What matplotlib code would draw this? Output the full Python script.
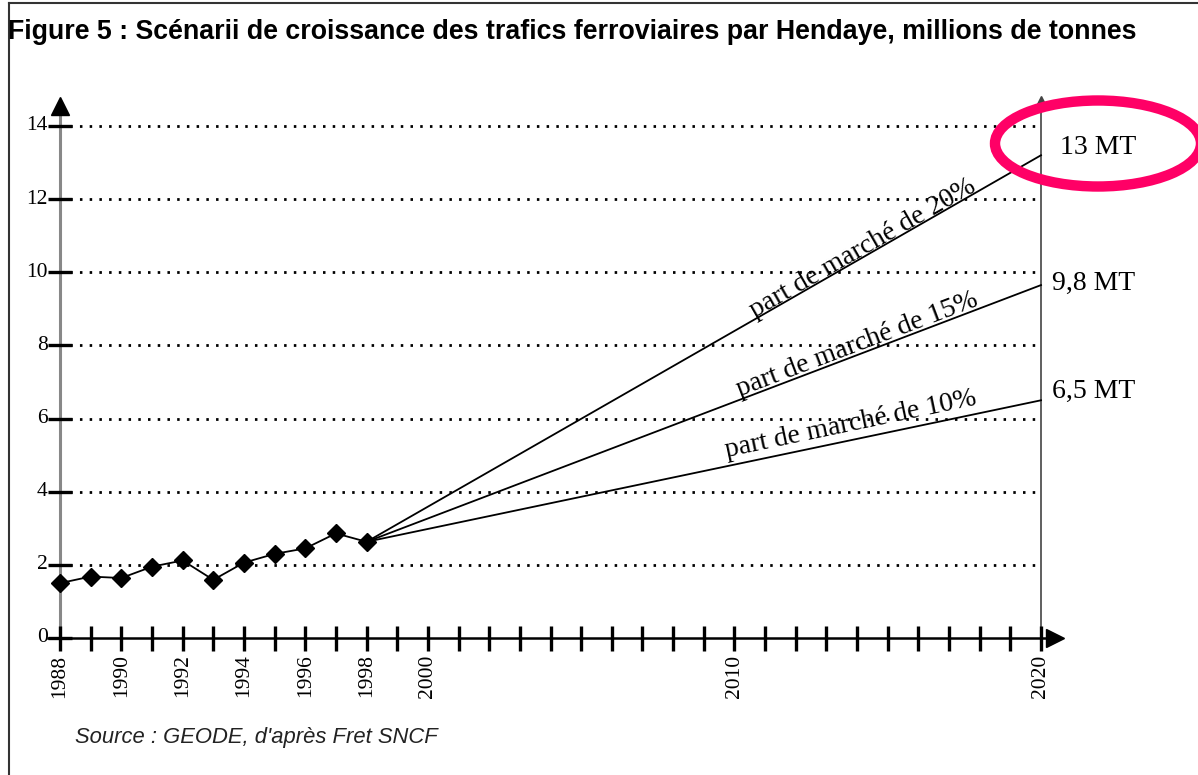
import numpy as np
import matplotlib.pyplot as plt
from matplotlib.patches import Ellipse
from matplotlib.lines import Line2D

# observed rail traffic through Hendaye (millions of tonnes)
years = [1988, 1989, 1990, 1991, 1992, 1993, 1994, 1995, 1996, 1997, 1998]
traffic = [1.50, 1.68, 1.64, 1.95, 2.12, 1.59, 2.06, 2.30, 2.45, 2.86, 2.63]

# growth scenarios up to 2020
scenario_labels = ['part de marché de 20%', 'part de marché de 15%', 'part de marché de 10%']
scenario_2020 = [13.2, 9.65, 6.5]
end_labels = ['13 MT', '9,8 MT', '6,5 MT']

y_ticks = [0, 2, 4, 6, 8, 10, 12, 14]
x_labels = [1988, 1990, 1992, 1994, 1996, 1998, 2000, 2010, 2020]

W, H = 1198, 775
fig = plt.figure(figsize=(W / 100, H / 100), dpi=100)
ax = fig.add_axes([0, 0, 1, 1])
ax.axis('off')

# pixel layout: 1988 -> x=60, 2020 -> x=1041 ; 0 -> y=638, 14 -> y=126
pxx = (1041 - 60) / 32
pxy = (638 - 126) / 14
ax.set_xlim(1988 - 60 / pxx, 1988 + (W - 60) / pxx)
ax.set_ylim(-(H - 638) / pxy, 638 / pxy)

serif = 'Liberation Serif'

# dotted grid
for v in y_ticks[1:]:
    ax.plot([1988, 2020], [v, v], color='black', lw=2.0, dashes=(0.9, 2.6))

# y axis
ax.plot([1988, 1988], [0, 14.45], color='#888888', lw=2.2, zorder=3)
ax.plot([1988], [14.55], marker='^', color='black', markersize=13, zorder=4)
ax.hlines(y_ticks, 1988 - 0.39, 1988 + 0.39, color='black', lw=2.4, zorder=4)
for v in y_ticks:
    ax.text(1987.6, v, str(v), family=serif, fontsize=15.5, ha='right', va='center')

# x axis
ax.plot([1987.6, 2020.4], [0, 0], color='black', lw=1.8, zorder=3)
ax.plot([2020.45], [0], marker='>', color='black', markersize=13, zorder=4)
all_years = np.arange(1988, 2021)
ax.vlines(all_years, -0.35, 0.34, color='black', lw=2.4, zorder=4)
for yr in x_labels:
    ax.text(yr, -0.45, str(yr), family=serif, fontsize=15.5, rotation=90,
            ha='center', va='top')

# 2020 vertical line
ax.plot([2020, 2020], [0, 14.6], color='#444444', lw=1.2, zorder=3)
ax.plot([2020], [14.7], marker='^', color='#444444', markersize=6, zorder=4)

# observed series
ax.plot(years, traffic, color='black', lw=1.3, marker='D', markersize=9, zorder=5)

# scenario lines
label_pos = [(2014.2, 10.66), (2014.0, 8.01), (2013.8, 5.85)]
for lab, end, pos in zip(scenario_labels, scenario_2020, label_pos):
    ax.plot([years[-1], 2020], [traffic[-1], end], color='black', lw=1.3, zorder=4)
    ang = np.degrees(np.arctan2(end - traffic[-1], 2020 - years[-1]))
    ax.text(pos[0], pos[1], lab, family=serif, fontsize=20, rotation=ang,
            rotation_mode='anchor', transform_rotates_text=True,
            ha='center', va='center')

end_pos = [(2020.62, 13.4), (2020.35, 9.7), (2020.35, 6.73)]
for lab, pos in zip(end_labels, end_pos):
    ax.text(pos[0], pos[1], lab, family=serif, fontsize=20, ha='left', va='center')

# title and source
fig.text(8 / W, 1 - 32 / H,
         'Figure 5 : Scénarii de croissance des trafics ferroviaires par Hendaye, millions de tonnes',
         family='Liberation Sans', fontweight='bold', fontsize=19.3, ha='left', va='center')
fig.text(75 / W, 1 - 738 / H, "Source : GEODE, d'après Fret SNCF",
         family='Liberation Sans', style='italic', fontsize=15.8, ha='left', va='center',
         color='#222222')

# frame lines of the original figure box
fig.add_artist(Line2D([9 / W, 9 / W], [0, 1 - 3 / H], color='#333333', lw=1.5))
fig.add_artist(Line2D([9 / W, 1], [1 - 3 / H, 1 - 3 / H], color='#333333', lw=1.5))

# highlight ellipse around the 13 MT label
fig.add_artist(Ellipse((1098 / W, 1 - 143.5 / H), 206 / W, 86 / H,
                       transform=fig.transFigure, fill=False,
                       edgecolor='#ff0066', lw=7.5, zorder=10))

fig.savefig('out.png', dpi=100)
